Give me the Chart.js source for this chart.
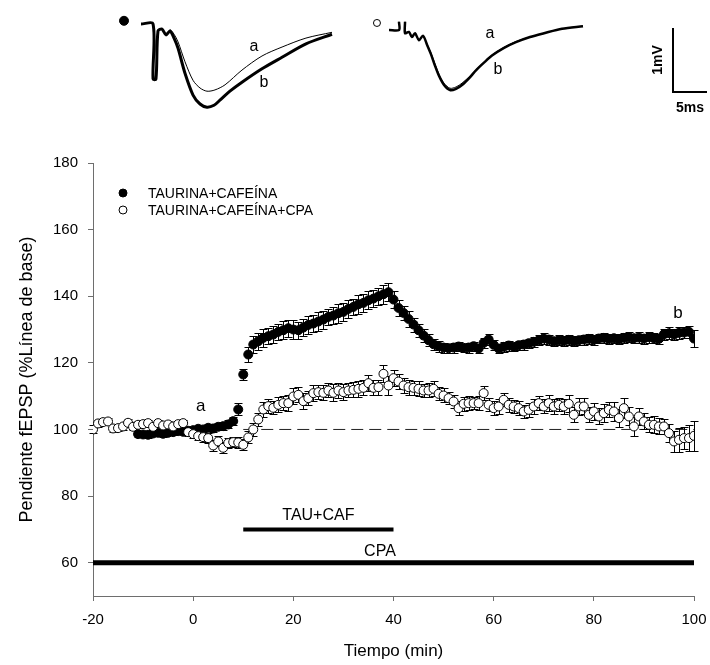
<!DOCTYPE html>
<html>
<head>
<meta charset="utf-8">
<script src="https://cdn.jsdelivr.net/npm/chart.js@4.4.1/dist/chart.umd.min.js"></script>
<style>
  html, body { margin: 0; background: #fff; }
  #wrap { position: relative; width: 710px; height: 665px; }
  #wrap canvas { position: absolute; left: 0; top: 0; }
</style>
</head>
<body>
<div id="wrap">
  <canvas id="slope-chart" width="710" height="665"></canvas>
  <canvas id="trace-chart" width="710" height="130"></canvas>
</div>
<script>
// --- DATA ---
const xTicks = [-20, 0, 20, 40, 60, 80, 100];
const yTicks = [60, 80, 100, 120, 140, 160, 180];

// TAURINA+CAFEÍNA: fEPSP slope (% of baseline) and SEM, one point per minute
const cafTime = [
  -11, -10, -9, -8, -7, -6, -5, -4, -3, -2, -1,
  0, 1, 2, 3, 4, 5, 6, 7, 8, 9,
  10, 11, 12, 13, 14, 15, 16, 17, 18, 19,
  20, 21, 22, 23, 24, 25, 26, 27, 28, 29,
  30, 31, 32, 33, 34, 35, 36, 37, 38, 39,
  40, 41, 42, 43, 44, 45, 46, 47, 48, 49,
  50, 51, 52, 53, 54, 55, 56, 57, 58, 59,
  60, 61, 62, 63, 64, 65, 66, 67, 68, 69,
  70, 71, 72, 73, 74, 75, 76, 77, 78, 79,
  80, 81, 82, 83, 84, 85, 86, 87, 88, 89,
  90, 91, 92, 93, 94, 95, 96, 97, 98, 99,
  100
];
const cafSlope = [
  98.6, 98.5, 98.4, 98.8, 99.0, 98.7, 99.0, 99.2, 99.5, 99.3, 99.6,
  99.8, 100.2, 100.0, 100.5, 100.3, 100.8, 101.0, 101.5, 102.5, 106.0,
  116.5, 122.5, 125.5, 126.5, 127.5, 128.0, 128.5, 129.3, 129.8, 130.4,
  130.0, 129.8, 130.6, 131.4, 131.8, 132.4, 133.0, 133.8, 134.2, 134.9,
  135.3, 136.2, 136.8, 137.6, 138.0, 138.8, 139.3, 140.0, 140.6, 141.2,
  139.0, 136.5, 135.0, 133.2, 131.5, 129.8, 128.2, 126.8, 125.6, 125.0,
  124.6, 124.4, 124.6, 124.9, 124.5, 124.6, 125.0, 124.3, 126.0, 127.0,
  125.4, 124.3, 124.8, 125.2, 124.8, 125.3, 125.5, 125.9, 126.3, 126.8,
  127.3, 127.0, 126.5, 126.8, 126.6, 126.9, 126.5, 126.8, 127.0, 127.2,
  126.9, 127.3, 127.5, 127.2, 127.4, 127.1, 127.5, 127.7, 127.4, 127.6,
  127.3, 127.7, 127.4, 127.2, 128.6, 128.9, 128.5, 129.0, 129.1, 129.3,
  127.3
];
const cafSem = [
  0.8, 0.8, 0.9, 0.8, 1.0, 0.9, 0.8, 1.0, 0.9, 0.8, 1.0,
  1.0, 0.9, 1.1, 1.0, 1.2, 1.0, 1.1, 1.2, 1.3, 1.8,
  1.8, 2.2, 2.6, 2.5, 2.8, 2.4, 2.6, 2.5, 2.7, 2.6,
  2.8, 2.6, 2.5, 2.7, 2.6, 2.8, 2.7, 2.5, 2.6, 2.8,
  2.6, 2.7, 2.5, 2.8, 2.6, 2.7, 2.5, 2.6, 2.8, 2.7,
  2.6, 2.4, 2.2, 2.3, 2.1, 2.0, 1.9, 1.8, 1.7, 1.6,
  1.5, 1.4, 1.5, 1.4, 1.3, 1.5, 1.4, 1.3, 1.5, 1.6,
  1.4, 1.3, 1.4, 1.5, 1.3, 1.4, 1.5, 1.4, 1.6, 1.5,
  1.6, 1.5, 1.4, 1.5, 1.6, 1.4, 1.5, 1.4, 1.5, 1.6,
  1.5, 1.4, 1.5, 1.6, 1.4, 1.5, 1.6, 1.5, 1.4, 1.6,
  1.5, 1.6, 1.5, 1.4, 1.7, 1.8, 1.6, 1.9, 1.7, 1.8,
  2.5
];

// TAURINA+CAFEÍNA+CPA
const cpaTime = [
  -20, -19, -18, -17, -16, -15, -14, -13, -12, -11,
  -10, -9, -8, -7, -6, -5, -4, -3, -2, -1,
  0, 1, 2, 3, 4, 5, 6, 7, 8, 9,
  10, 11, 12, 13, 14, 15, 16, 17, 18, 19,
  20, 21, 22, 23, 24, 25, 26, 27, 28, 29,
  30, 31, 32, 33, 34, 35, 36, 37, 38, 39,
  40, 41, 42, 43, 44, 45, 46, 47, 48, 49,
  50, 51, 52, 53, 54, 55, 56, 57, 58, 59,
  60, 61, 62, 63, 64, 65, 66, 67, 68, 69,
  70, 71, 72, 73, 74, 75, 76, 77, 78, 79,
  80, 81, 82, 83, 84, 85, 86, 87, 88, 89,
  90, 91, 92, 93, 94, 95, 96, 97, 98, 99,
  100
];
const cpaSlope = [
  100.0, 101.8, 102.2, 102.4, 100.3, 100.4, 100.9, 102.0, 100.8, 101.4,
  101.6, 101.9, 100.8, 101.9, 101.2, 101.5, 100.9, 101.6, 101.9, 99.2,
  98.6, 98.0, 97.7, 97.4, 95.2, 96.4, 94.5, 95.9, 96.2, 96.1,
  95.4, 97.6, 100.0, 103.0, 106.0, 107.0, 106.5, 107.4, 107.9, 107.9,
  109.9, 110.4, 108.5, 109.4, 110.9, 111.2, 111.0, 111.7, 111.0, 111.7,
  111.2, 111.7, 111.9, 112.2, 112.5, 113.9, 112.5, 112.7, 116.7, 113.2,
  115.4, 114.4, 113.2, 112.7, 112.5, 112.2, 111.7, 111.7, 112.2, 110.7,
  110.2, 109.4, 108.4, 106.4, 107.7, 107.9, 107.9, 107.9, 110.9, 107.4,
  106.4, 106.9, 108.9, 107.4, 106.9, 106.4, 105.4, 105.9, 106.9, 107.9,
  106.9, 107.9, 106.9, 107.4, 106.9, 107.7, 104.4, 106.9, 106.9, 104.4,
  105.4, 103.9, 104.9, 105.9, 105.4, 103.4, 106.4, 103.9, 100.9, 103.9,
  102.4, 101.4, 101.4, 100.9, 100.9, 98.9, 96.4, 96.9, 97.4, 97.4,
  98.1
];
const cpaSem = [
  1.2, 1.0, 0.9, 1.1, 1.0, 0.9, 1.0, 1.1, 0.9, 1.0,
  1.0, 0.9, 1.1, 1.0, 0.9, 1.0, 1.1, 1.0, 0.9, 1.1,
  1.2, 1.3, 1.4, 1.5, 1.6, 1.5, 1.7, 1.6, 1.5, 1.6,
  1.7, 1.8, 1.9, 2.0, 2.2, 2.1, 2.0, 2.2, 2.1, 2.3,
  2.4, 2.2, 2.3, 2.1, 2.4, 2.2, 2.3, 2.1, 2.5, 2.2,
  2.3, 2.1, 2.2, 2.4, 2.3, 2.5, 2.2, 2.3, 2.6, 2.8,
  2.5, 2.4, 2.2, 2.3, 2.1, 2.2, 2.0, 2.1, 2.2, 2.0,
  2.1, 1.9, 2.0, 2.2, 2.1, 2.0, 1.9, 2.1, 2.2, 2.0,
  2.1, 2.2, 2.0, 2.1, 1.9, 2.2, 2.0, 2.1, 2.3, 2.2,
  2.1, 2.4, 2.2, 2.0, 2.3, 2.5, 2.2, 2.6, 2.4, 2.3,
  2.5, 2.4, 2.6, 2.3, 2.8, 2.6, 3.0, 2.7, 2.9, 2.5,
  2.4, 2.2, 2.6, 2.4, 2.3, 2.8, 3.2, 3.6, 3.4, 3.9,
  4.5
];

// drug application periods (min) and the level each bar is drawn at
const tauCafPeriod = [10, 40];
const tauCafLevel = 70;
const cpaPeriod = [-20, 100];
const cpaLevel = 60;
const baselineFrom = 10;
const baselineLevel = 100;

// sample fEPSPs, [ms, mV] from the start of each sweep (a = baseline, b = end)
const traceCafA = [
  [0, 0], [1.77, 0], [1.77, -0.86], [2.20, -0.86], [2.50, -0.11], [3.09, -0.07],
  [3.68, -0.17], [4.27, -0.09], [4.86, -0.16], [5.45, -0.28], [6.47, -0.59],
  [7.65, -0.88], [8.68, -1.00], [9.70, -1.05], [10.88, -1.03], [12.36, -0.95],
  [14.85, -0.72], [17.79, -0.50], [20.74, -0.36], [24.26, -0.22], [28.09, -0.13]
];
const traceCafB = [
  [0, 0], [1.77, 0], [1.77, -0.86], [2.20, -0.86], [2.50, -0.11], [3.09, -0.08],
  [3.68, -0.17], [4.27, -0.11], [4.86, -0.22], [5.45, -0.38], [6.47, -0.77],
  [7.65, -1.11], [8.68, -1.25], [9.70, -1.30], [10.74, -1.27], [11.61, -1.19],
  [13.08, -1.05], [14.85, -0.91], [17.79, -0.70], [20.74, -0.52], [24.26, -0.31],
  [28.09, -0.16]
];
const traceCpaA = [
  [0, 0], [1.47, 0], [1.47, 0.13], null, [2.36, 0.13], [2.36, -0.05], [2.93, -0.03],
  [3.38, -0.11], [3.82, -0.05], [4.41, -0.16], [5.00, -0.09], [5.59, -0.22],
  [6.18, -0.36], [6.77, -0.53], [7.36, -0.69], [8.09, -0.83], [8.97, -0.91],
  [9.86, -0.89], [10.74, -0.83], [11.90, -0.72], [12.79, -0.62], [13.97, -0.50],
  [15.15, -0.39], [16.92, -0.27], [18.67, -0.18], [20.74, -0.11], [22.80, -0.05],
  [25.44, 0.02], [28.53, 0.06]
];
const traceCpaB = [
  [0, 0], [1.47, 0], [1.47, 0.13], null, [2.36, 0.13], [2.36, -0.05], [2.93, -0.03],
  [3.38, -0.11], [3.82, -0.05], [4.41, -0.16], [5.00, -0.09], [5.59, -0.23],
  [6.18, -0.38], [6.77, -0.56], [7.36, -0.72], [8.09, -0.86], [8.97, -0.94],
  [9.86, -0.92], [10.74, -0.86], [11.90, -0.74], [12.79, -0.63], [13.97, -0.51],
  [15.15, -0.40], [16.92, -0.28], [18.67, -0.19], [20.74, -0.11], [22.80, -0.05],
  [25.44, 0.02], [28.53, 0.06]
];
// calibration: 5 ms / 1 mV
const scaleBar = [[0, 1], [0, 0], [5, 0]];

// --- HELPERS ---
const FONT = 'Arial, "Liberation Sans", Helvetica, sans-serif';
Chart.defaults.font.family = FONT;
Chart.defaults.color = '#000';

const points = (xs, ys) => xs.map((x, i) => ({ x, y: ys[i] }));
const pairs = arr => arr.map(p => p ? { x: p[0], y: p[1] } : { x: null, y: null });
const AXIS = '#6e6e6e';

// error bars under each marker
const errorBars = {
  id: 'errorBars',
  beforeDatasetDraw(chart, args) {
    const ds = chart.data.datasets[args.index];
    if (!ds.sem) return;
    const { ctx, scales: { x, y } } = chart;
    ctx.save();
    ctx.strokeStyle = '#000';
    ctx.lineWidth = 1;
    ctx.beginPath();
    ds.data.forEach((p, i) => {
      const px = Math.round(x.getPixelForValue(p.x)) + 0.5;
      const top = Math.round(y.getPixelForValue(p.y + ds.sem[i])) + 0.5;
      const bot = Math.round(y.getPixelForValue(p.y - ds.sem[i])) + 0.5;
      ctx.moveTo(px, top); ctx.lineTo(px, bot);
      ctx.moveTo(px - 4, top); ctx.lineTo(px + 4, top);
      ctx.moveTo(px - 4, bot); ctx.lineTo(px + 4, bot);
    });
    ctx.stroke();
    ctx.restore();
  }
};

// legend in the upper left corner of the plot plus the text notes
const slopeNotes = [
  { text: 'a', x: 1.5, y: 106.8, size: 17 },
  { text: 'b', x: 96.8, y: 135, size: 17 },
  { text: 'TAU+CAF', x: 25, y: 74, size: 16 },
  { text: 'CPA', x: 37.3, y: 63.4, size: 16 }
];
const slopeDecor = {
  id: 'slopeDecor',
  afterDatasetsDraw(chart) {
    const { ctx, scales: { x, y } } = chart;
    ctx.save();
    ctx.fillStyle = '#000';
    ctx.textBaseline = 'middle';
    ctx.textAlign = 'center';
    slopeNotes.forEach(n => {
      ctx.font = n.size + 'px ' + FONT;
      ctx.fillText(n.text, x.getPixelForValue(n.x), y.getPixelForValue(n.y));
    });

    const rows = chart.data.datasets.filter(d => d.sem).sort((a, b) => b.order - a.order);
    ctx.font = '14px ' + FONT;
    ctx.textAlign = 'left';
    rows.forEach((ds, i) => {
      const cy = 193 + i * 17;
      ctx.beginPath();
      ctx.arc(123, cy, 4, 0, Math.PI * 2);
      ctx.fillStyle = ds.backgroundColor;
      ctx.fill();
      ctx.lineWidth = 1;
      ctx.strokeStyle = '#000';
      ctx.stroke();
      ctx.fillStyle = '#000';
      ctx.fillText(ds.label, 148, cy + 1);
    });
    ctx.restore();
  }
};

new Chart(document.getElementById('slope-chart'), {
  type: 'scatter',
  data: {
    datasets: [
      {
        label: 'TAURINA+CAFEÍNA+CPA',
        data: points(cpaTime, cpaSlope),
        sem: cpaSem,
        order: 1,
        pointRadius: 4.5,
        pointBackgroundColor: '#fff',
        backgroundColor: '#fff',
        pointBorderColor: '#000',
        pointBorderWidth: 1
      },
      {
        label: 'TAURINA+CAFEÍNA',
        data: points(cafTime, cafSlope),
        sem: cafSem,
        order: 2,
        pointRadius: 4.5,
        pointBackgroundColor: '#000',
        backgroundColor: '#000',
        pointBorderColor: '#000',
        pointBorderWidth: 1
      },
      {
        data: [{ x: baselineFrom, y: baselineLevel }, { x: 100, y: baselineLevel }],
        order: 3, showLine: true, pointRadius: 0,
        borderColor: '#222', borderWidth: 1, borderDash: [12, 6]
      },
      {
        data: tauCafPeriod.map(x => ({ x, y: tauCafLevel })),
        order: 3, showLine: true, pointRadius: 0,
        borderColor: '#000', borderWidth: 4
      },
      {
        data: cpaPeriod.map(x => ({ x, y: cpaLevel })),
        order: 3, showLine: true, pointRadius: 0,
        borderColor: '#000', borderWidth: 5
      }
    ]
  },
  options: {
    responsive: false,
    animation: false,
    devicePixelRatio: 1,
    layout: { padding: { top: 163, right: 16, left: 0, bottom: 0 } },
    plugins: { legend: { display: false }, tooltip: { enabled: false } },
    scales: {
      x: {
        type: 'linear', min: -20, max: 100,
        afterBuildTicks: s => { s.ticks = xTicks.map(v => ({ value: v })); },
        afterFit: s => { s.height = 69; s.paddingLeft = 0; s.paddingRight = 0; },
        ticks: { font: { size: 15 }, color: '#000', padding: 10 },
        grid: { drawOnChartArea: false, tickLength: 5, color: AXIS },
        border: { color: AXIS, width: 1 },
        title: { display: true, text: 'Tiempo (min)', font: { size: 17 }, color: '#000', padding: { bottom: 3 } }
      },
      y: {
        type: 'linear', min: 50, max: 180,
        afterBuildTicks: s => { s.ticks = yTicks.map(v => ({ value: v })); },
        afterFit: s => { s.width = 93; s.paddingTop = 0; s.paddingBottom = 0; },
        ticks: { font: { size: 15 }, color: '#000', padding: 10 },
        grid: { drawOnChartArea: false, tickLength: 5, color: AXIS },
        border: { color: AXIS, width: 1 },
        title: { display: true, text: 'Pendiente fEPSP (%Línea de base)', font: { size: 18 }, color: '#000', padding: { top: 16 } }
      }
    }
  },
  plugins: [errorBars, slopeDecor]
});

// --- SAMPLE TRACES ---
const TRACE_W = 710, TRACE_H = 130;
const MS_PX = 6.8, MV_PX = 64;
const xSpan = origin => ({ min: -origin / MS_PX, max: (TRACE_W - origin) / MS_PX });
const ySpan = origin => ({ min: (origin - TRACE_H) / MV_PX, max: origin / MV_PX });
const hidden = { type: 'linear', display: false };

const traceNotes = [
  { text: 'a', xs: 'x1', ys: 'y1', x: 16.62, y: -0.36 },
  { text: 'b', xs: 'x1', ys: 'y1', x: 18.08, y: -0.92 },
  { text: 'a', xs: 'x2', ys: 'y2', x: 14.85, y: -0.05 },
  { text: 'b', xs: 'x2', ys: 'y2', x: 16.03, y: -0.62 }
];
const traceMarks = [
  { fill: '#000', r: 4.5, xs: 'x1', ys: 'y1', x: -2.50, y: 0.05 },
  { fill: '#fff', r: 3.5, xs: 'x2', ys: 'y2', x: -1.77, y: 0.11 }
];
const traceDecor = {
  id: 'traceDecor',
  afterDatasetsDraw(chart) {
    const { ctx, scales: s } = chart;
    const at = (n) => [s[n.xs].getPixelForValue(n.x), s[n.ys].getPixelForValue(n.y)];
    ctx.save();
    ctx.fillStyle = '#000';
    ctx.textAlign = 'center';
    ctx.textBaseline = 'middle';
    ctx.font = '16px ' + FONT;
    traceNotes.forEach(n => { const [px, py] = at(n); ctx.fillText(n.text, px, py); });

    traceMarks.forEach(m => {
      const [px, py] = at(m);
      ctx.beginPath();
      ctx.arc(px, py, m.r, 0, Math.PI * 2);
      ctx.fillStyle = m.fill;
      ctx.fill();
      ctx.strokeStyle = '#000';
      ctx.lineWidth = 1;
      ctx.stroke();
    });

    ctx.fillStyle = '#000';
    ctx.font = 'bold 14px ' + FONT;
    ctx.fillText('5ms', s.xs.getPixelForValue(2.5), s.ys.getPixelForValue(-0.25));
    ctx.translate(s.xs.getPixelForValue(-2.2), s.ys.getPixelForValue(0.5));
    ctx.rotate(-Math.PI / 2);
    ctx.fillText('1mV', 0, 0);
    ctx.restore();
  }
};

const traceLine = (data, xs, ys, width) => ({
  data: pairs(data), xAxisID: xs, yAxisID: ys,
  showLine: true, pointRadius: 0, borderColor: '#000',
  borderWidth: width, tension: 0.3, spanGaps: false
});

new Chart(document.getElementById('trace-chart'), {
  type: 'scatter',
  data: {
    datasets: [
      traceLine(traceCafB, 'x1', 'y1', 3),
      traceLine(traceCafA, 'x1', 'y1', 1),
      traceLine(traceCpaB, 'x2', 'y2', 2.5),
      traceLine(traceCpaA, 'x2', 'y2', 1),
      { ...traceLine(scaleBar, 'xs', 'ys', 2), tension: 0 }
    ]
  },
  options: {
    responsive: false,
    animation: false,
    devicePixelRatio: 1,
    layout: { padding: 0 },
    plugins: { legend: { display: false }, tooltip: { enabled: false } },
    scales: {
      x1: { ...hidden, axis: 'x', ...xSpan(141) },
      y1: { ...hidden, axis: 'y', ...ySpan(24) },
      x2: { ...hidden, axis: 'x', ...xSpan(389) },
      y2: { ...hidden, axis: 'y', ...ySpan(30) },
      xs: { ...hidden, axis: 'x', ...xSpan(673) },
      ys: { ...hidden, axis: 'y', ...ySpan(92) }
    }
  },
  plugins: [traceDecor]
});
</script>
</body>
</html>
